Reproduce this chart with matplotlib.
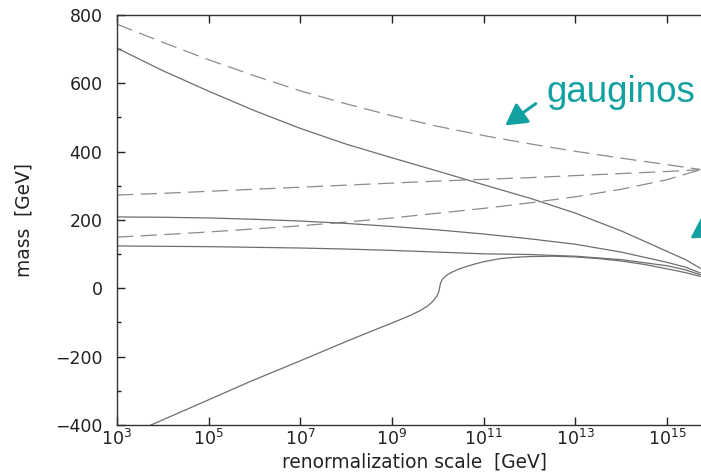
import matplotlib
matplotlib.use("Agg")
import matplotlib.pyplot as plt
import numpy as np

plt.rcParams['font.family'] = ['DejaVu Sans']
plt.rcParams['mathtext.fontset'] = 'dejavusans'

# running masses vs log10(scale / GeV)
# gauginos (dashed)
gluino_x = [3, 4, 5, 6, 7, 8, 9, 10, 11, 12, 13, 14, 15, 15.72]
gluino_y = [773, 720, 669, 622, 578, 540, 505, 474, 447, 423, 401, 381, 362, 348]

wino_x = [3, 4, 5, 6, 7, 8, 9, 10, 11, 12, 13, 14, 15, 15.72]
wino_y = [273, 278, 284, 290, 296, 302, 308, 314, 319, 324, 330, 336, 342, 347]

bino_x = [3, 4, 5, 6, 7, 8, 9, 10, 11, 12, 13, 14, 15, 15.72]
bino_y = [150, 157, 165, 174, 183, 194, 206, 220, 234, 250, 268, 290, 318, 347]

# solid curves
top_x = [3, 4, 5, 6, 7, 8, 9, 10, 11, 12, 13, 14, 15, 15.4, 15.72]
top_y = [703, 637, 577, 520, 468, 422, 382, 343, 303, 264, 220, 168, 108, 84, 59]

mid_x = [3, 4, 5, 6, 7, 8, 9, 10, 11, 12, 13, 14, 15, 15.4, 15.72]
mid_y = [209, 208, 206, 202, 197, 190, 181, 171, 159, 145, 129, 106, 76, 62, 45]

low_x = [3, 4, 5, 6, 7, 8, 9, 10, 11, 12, 13, 14, 15, 15.4, 15.72]
low_y = [124, 123, 122, 120, 118, 115, 111, 106, 101, 99, 94, 84, 66, 54, 40]

s_x = [3.74, 4.8, 5.9, 7.0, 8.08, 9.17, 9.4, 9.6, 9.75, 9.85, 9.92, 9.97, 10.0,
       10.02, 10.03, 10.035, 10.045, 10.06, 10.09, 10.15, 10.22, 10.3, 10.45,
       10.6, 10.8, 11.0, 11.36, 11.7, 12.0, 12.5, 13.0, 13.5, 14.0, 14.5, 15.0,
       15.4, 15.72]
s_y = [-400, -338, -273, -212, -151, -92, -79, -66, -54, -43, -33, -24, -16,
       -9, -3, 0, 8, 16, 25, 34, 41, 47, 56,
       63, 71, 78, 87, 91, 93, 94, 92, 87, 80, 70, 57,
       46, 35]

ytick_vals = [-400, -200, 0, 200, 400, 600, 800]
xtick_exps = [3, 5, 7, 9, 11, 13, 15]

W, H = 701, 473
fig = plt.figure(figsize=(W / 100, H / 100), dpi=100)
ax = fig.add_axes([117 / W, 48 / H, (713 - 117) / W, 410 / H])

solid_c = '#6e6e6e'
dash_c = '#8c8c8c'
for xs, ys in [(gluino_x, gluino_y), (wino_x, wino_y), (bino_x, bino_y)]:
    ax.plot(10.0 ** np.array(xs), ys, color=dash_c, lw=0.9, dashes=(13, 6))
for xs, ys in [(top_x, top_y), (mid_x, mid_y), (low_x, low_y), (s_x, s_y)]:
    ax.plot(10.0 ** np.array(xs), ys, color=solid_c, lw=0.9)

ax.set_xscale('log')
ax.set_xlim(1e3, 1e16)
ax.set_ylim(-400, 800)
ax.set_xticks([10.0 ** e for e in xtick_exps])
ax.set_xticklabels([r'$10^{%d}$' % e for e in xtick_exps])
ax.xaxis.set_minor_locator(matplotlib.ticker.NullLocator())
ax.set_yticks(ytick_vals)
ax.set_yticks(np.arange(-300, 800, 200), minor=True)
ax.tick_params(which='both', direction='in', top=True, right=True,
               labelsize=12.5, colors='#222222', width=1)
ax.tick_params(which='major', length=6)
ax.tick_params(which='minor', length=3)
ax.tick_params(axis='y', pad=10.5)
ax.tick_params(axis='x', pad=2.5)
for s in ax.spines.values():
    s.set_color('#333333')
    s.set_linewidth(1)

ax.set_xlabel('renormalization scale  [GeV]', fontsize=13.4, color='#222222')
ax.xaxis.set_label_coords(0.5, -0.068)
ax.set_ylabel('mass  [GeV]', fontsize=13.4, color='#222222')
ax.yaxis.set_label_coords(-0.14, 0.5)

teal = '#13a0a0'
fig.text(546 / W, 1 - 102 / H, 'gauginos', fontsize=26.5, color=teal,
         family='Liberation Sans', ha='left', va='baseline')
ax.annotate('', xy=(503, H - 127), xycoords='figure pixels',
            xytext=(538, H - 102), textcoords='figure pixels',
            arrowprops=dict(arrowstyle='-|>,head_length=0.8,head_width=0.45',
                            mutation_scale=16, lw=2.2, color=teal),
            annotation_clip=False)
ax.annotate('', xy=(688, H - 240), xycoords='figure pixels',
            xytext=(740, H - 206), textcoords='figure pixels',
            arrowprops=dict(arrowstyle='-|>,head_length=0.8,head_width=0.45',
                            mutation_scale=16, lw=2.2, color=teal),
            annotation_clip=False)

fig.savefig('out.png', dpi=100)
